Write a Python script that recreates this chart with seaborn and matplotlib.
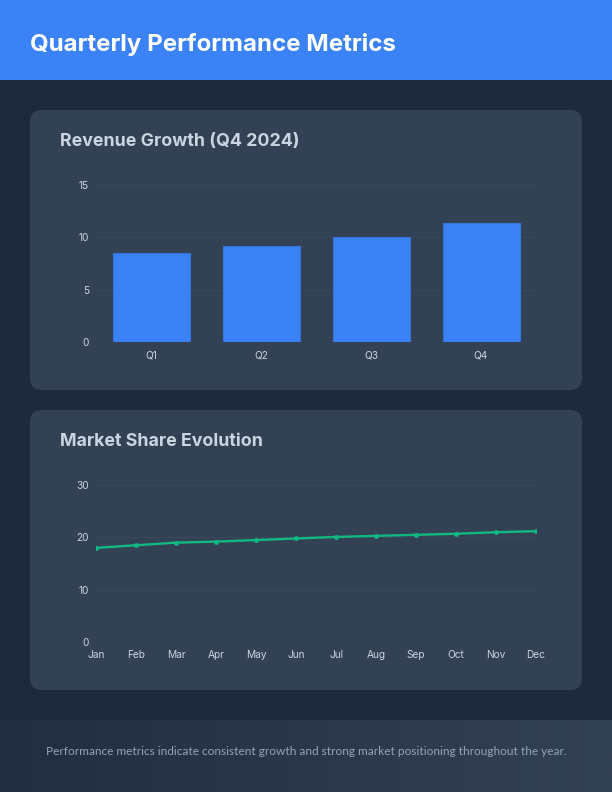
import numpy as np
import pandas as pd
import matplotlib
matplotlib.use("Agg")
import matplotlib.pyplot as plt
from matplotlib.patches import FancyBboxPatch, Rectangle
from matplotlib.colors import LinearSegmentedColormap
import seaborn as sns

# ---- data ----
quarters = ["Q1", "Q2", "Q3", "Q4"]
revenue = [8.5, 9.2, 10.0, 11.4]
months = ["Jan", "Feb", "Mar", "Apr", "May", "Jun", "Jul", "Aug", "Sep", "Oct", "Nov", "Dec"]
market_share = [18.0, 18.5, 19.0, 19.2, 19.5, 19.8, 20.1, 20.3, 20.5, 20.7, 21.0, 21.2]
bar_yticks = [0, 5, 10, 15]
line_yticks = [0, 10, 20, 30]

title = "Quarterly Performance Metrics"
bar_title = "Revenue Growth (Q4 2024)"
line_title = "Market Share Evolution"
footer = "Performance metrics indicate consistent growth and strong market positioning throughout the year."

# ---- style ----
sns.set_theme(style="dark")
plt.rcParams["font.family"] = ["Inter", "DejaVu Sans"]

W, H = 612, 792
BG = "#1e293b"
CARD = "#334155"
BLUE = "#3b82f6"
GREEN = "#10b981"
TICK = "#cbd5e1"
GRID = "#39475a"

fig = plt.figure(figsize=(W / 100, H / 100), dpi=100)
fig.patch.set_facecolor(BG)

# background canvas in pixel coords
bg = fig.add_axes([0, 0, 1, 1])
bg.axis("off")
bg.add_patch(Rectangle((0, 0), W, H, color=BG, zorder=0))
bg.add_patch(Rectangle((0, 0), W, 80, color=BLUE, zorder=1, linewidth=0))
bg.text(30, 44, title, color="white", fontsize=17.3, fontweight="bold",
        va="center", ha="left", zorder=2)

for (y0, y1) in [(110, 390), (410, 690)]:
    bg.add_patch(FancyBboxPatch((30, y0), 552, y1 - y0,
                                boxstyle="round,pad=0,rounding_size=12",
                                facecolor=CARD, edgecolor="none", zorder=1))
bg.text(60, 141, bar_title, color=TICK, fontsize=12.8, fontweight="bold",
        va="center", ha="left", zorder=2)
bg.text(60, 441, line_title, color=TICK, fontsize=12.8, fontweight="bold",
        va="center", ha="left", zorder=2)

# footer gradient
grad = np.linspace(0, 1, 256).reshape(1, -1)
cmap = LinearSegmentedColormap.from_list("foot", ["#222d40", "#334155"])
bg.imshow(grad, cmap=cmap, extent=(0, W, 792, 720), aspect="auto", zorder=1)
bg.set_xlim(0, W)
bg.set_ylim(H, 0)
bg.text(306, 751.5, footer, color="#94a3b8", fontsize=8.55, family=["Lato", "DejaVu Sans"],
        va="center", ha="center", zorder=2)


def style_axes(ax):
    ax.set_facecolor("none")
    for s in ax.spines.values():
        s.set_visible(False)
    ax.tick_params(axis="both", colors=TICK, labelsize=7.3, length=0)
    ax.tick_params(axis="y", pad=5)
    ax.tick_params(axis="x", pad=6)
    ax.grid(axis="y", color=GRID, linewidth=0.8)
    ax.grid(axis="x", visible=False)
    ax.set_axisbelow(True)
    ax.set_xlabel("")
    ax.set_ylabel("")


def fig_rect(x0, y0, x1, y1):
    return [x0 / W, 1 - y1 / H, (x1 - x0) / W, (y1 - y0) / H]


# bar chart
ax1 = fig.add_axes(fig_rect(96, 185.3, 536, 341.7))
df1 = pd.DataFrame({"quarter": quarters, "revenue": revenue})
sns.barplot(data=df1, x="quarter", y="revenue", color=BLUE, saturation=1,
            width=0.7, linewidth=0.8, edgecolor="#3574de", ax=ax1)
ax1.set_xlim(-0.5, 3.5)
ax1.set_ylim(0, 15)
ax1.set_yticks(bar_yticks)
style_axes(ax1)

# line chart
ax2 = fig.add_axes(fig_rect(96, 485.3, 536, 641.7))
df2 = pd.DataFrame({"month": months, "share": market_share})
sns.lineplot(data=df2, x="month", y="share", color=GREEN, linewidth=1.7,
             marker="o", markersize=3.5, markeredgewidth=0, sort=False, ax=ax2)
ax2.set_xlim(0, 11)
ax2.set_ylim(0, 30)
ax2.set_yticks(line_yticks)
style_axes(ax2)

fig.savefig("out.png", dpi=100, facecolor=BG)
